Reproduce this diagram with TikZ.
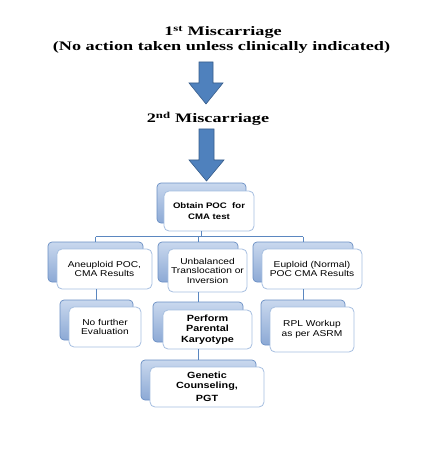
\documentclass[tikz,border=0pt]{standalone}
\usepackage{fontspec}
\newfontfamily\titlefont[FakeStretch=1.4]{Liberation Serif}
\newfontfamily\boxfont[FakeStretch=1.2]{Liberation Sans}
\definecolor{arrowfill}{HTML}{4F81BD}
\definecolor{arrowline}{HTML}{385D8A}
\definecolor{backtop}{HTML}{C9D8EE}
\definecolor{backbot}{HTML}{8CA9D5}
\definecolor{backline}{HTML}{6A8FC4}
\definecolor{frontline}{HTML}{A6BFE0}
\definecolor{connline}{HTML}{5B87C0}
\begin{document}
\begin{tikzpicture}[x=1pt,y=-1pt,
  titletext/.style={font=\titlefont\bfseries\fontsize{13}{15}\selectfont, inner sep=0pt, anchor=base},
  blockarrow/.style={fill=arrowfill, draw=arrowline, line width=0.6pt, line join=miter},
  backbox/.style={draw=backline, line width=0.7pt, rounded corners=4pt, top color=backtop, bottom color=backbot, anchor=north west, inner sep=0pt, outer sep=0pt},
  frontbox/.style={draw=frontline, line width=0.8pt, fill=white, rounded corners=5pt, anchor=north west, inner sep=0pt, outer sep=0pt, align=center, text=black},
  regtext/.style={font=\boxfont\fontsize{8.5}{9.5}\selectfont},
  boldtext/.style={font=\boxfont\bfseries\fontsize{9}{10.5}\selectfont},
  conn/.style={draw=connline, line width=0.9pt}
]
\useasboundingbox (0,0) rectangle (430,449);

% titles
\node[titletext] (t1) at (223,35.5) {1\textsuperscript{st} Miscarriage};
\node[titletext] (t2) at (221.5,50.5) {(No action taken unless clinically indicated)};
\node[titletext] (t3) at (208,123) {2\textsuperscript{nd} Miscarriage};

% block arrows
\path[blockarrow] (199,62) -- (213,62) -- (213,83) -- (223,83) -- (206,104) -- (189,83) -- (199,83) -- cycle;
\path[blockarrow] (199,129) -- (214,129) -- (214,160) -- (224,160) -- (206.5,181) -- (189,160) -- (199,160) -- cycle;

% top box
\node[backbox, minimum width=89pt, minimum height=40pt] (b0) at (157,183) {};
\node[frontbox, boldtext, font=\boxfont\bfseries\fontsize{8}{11}\selectfont, minimum width=90pt, minimum height=40pt] (f0) at (164,191) {Obtain POC\ \ for\\CMA test};

% row 1
\node[backbox, minimum width=95pt, minimum height=40pt] (b1) at (48,242) {};
\node[frontbox, regtext, minimum width=95pt, minimum height=40pt] (f1) at (57,249) {Aneuploid POC,\\CMA Results};
\node[backbox, minimum width=80pt, minimum height=40pt] (b2) at (158,242) {};
\node[frontbox, regtext, minimum width=79pt, minimum height=43pt] (f2) at (168,249) {Unbalanced\\Translocation or\\Inversion};
\node[backbox, minimum width=100pt, minimum height=40pt] (b3) at (253,242) {};
\node[frontbox, regtext, minimum width=100pt, minimum height=40pt] (f3) at (262,249) {Euploid (Normal)\\POC CMA Results};

% row 2
\node[backbox, minimum width=73pt, minimum height=40pt] (b4) at (60,300) {};
\node[frontbox, regtext, minimum width=72pt, minimum height=40pt] (f4) at (69,307) {No further\\Evaluation};
\node[backbox, minimum width=90pt, minimum height=40pt] (b5) at (153,302) {};
\node[frontbox, boldtext, minimum width=89pt, minimum height=39pt] (f5) at (163,310) {Perform\\Parental\\Karyotype};
\node[backbox, minimum width=84pt, minimum height=45pt] (b6) at (261,300) {};
\node[frontbox, regtext, minimum width=84pt, minimum height=45pt] (f6) at (270,307) {RPL Workup\\as per ASRM};

% row 3
\node[backbox, minimum width=115pt, minimum height=40pt] (b7) at (141,360) {};
\node[frontbox, boldtext, minimum width=114pt, minimum height=40pt] (f7) at (150,367) {Genetic\\Counseling,\\[2.5pt]PGT};

% connectors
\coordinate (jL) at (b1.north |- 0,236.5);
\coordinate (jR) at (b3.north |- 0,236.5);
\draw[conn] (b0.south |- f0.south) -- (b0.south |- jL);
\draw[conn] (jL) -- (jR);
\draw[conn] (jL) -- (b1.north);
\draw[conn] (b2.north |- jL) -- (b2.north);
\draw[conn] (jR) -- (b3.north);
\draw[conn] (b4.north |- f1.south) -- (b4.north);
\draw[conn] (b5.north |- f2.south) -- (b5.north);
\draw[conn] (b6.north |- f3.south) -- (b6.north);
\draw[conn] (b7.north |- f5.south) -- (b7.north);
\end{tikzpicture}
\end{document}
